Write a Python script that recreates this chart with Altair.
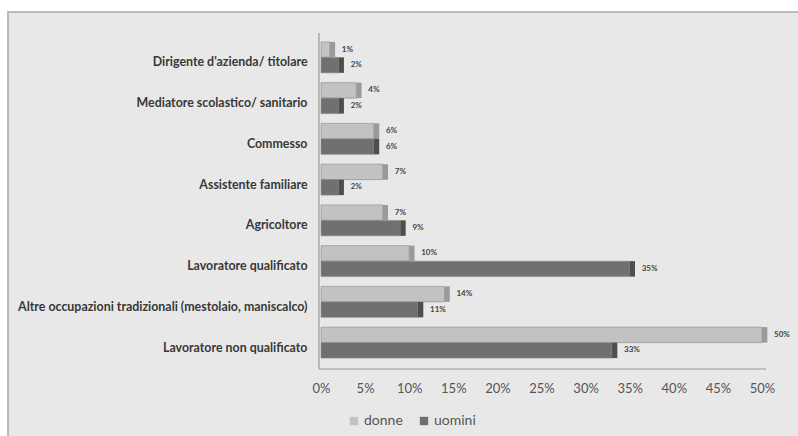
import altair as alt
import pandas as pd

categories = [
    "Dirigente d'azienda/ titolare",
    "Mediatore scolastico/ sanitario",
    "Commesso",
    "Assistente familiare",
    "Agricoltore",
    "Lavoratore qualificato",
    "Altre occupazioni tradizionali (mestolaio, maniscalco)",
    "Lavoratore non qualificato",
]
donne = [0.01, 0.04, 0.06, 0.07, 0.07, 0.10, 0.14, 0.50]
uomini = [0.02, 0.02, 0.06, 0.02, 0.09, 0.35, 0.11, 0.33]
series = ["donne", "uomini"]
x_ticks = [0, 0.05, 0.10, 0.15, 0.20, 0.25, 0.30, 0.35, 0.40, 0.45, 0.50]

rows = []
for c, d, u in zip(categories, donne, uomini):
    rows.append({"cat": c, "serie": "donne", "val": d})
    rows.append({"cat": c, "serie": "uomini", "val": u})
df = pd.DataFrame(rows)

W, H = 441, 326
FONT = "Lato"

y_enc = alt.Y("cat:N", sort=categories, title=None,
              scale=alt.Scale(paddingInner=0.24, paddingOuter=0.12),
              axis=alt.Axis(labelFont=FONT, labelFontWeight="bold", labelFontSize=12.4,
                            labelColor="#383838", labelPadding=14, labelOffset=5,
                            ticks=False, domain=False, labelLimit=400, zindex=2))
x_enc = alt.X("val:Q", title=None,
              scale=alt.Scale(domain=[0, 0.5], nice=False),
              axis=alt.Axis(format=".0%", values=x_ticks, labelFont=FONT, labelFontSize=13,
                            labelColor="#555555", labelPadding=19, ticks=False, labelFlush=False,
                            domain=False, grid=False, zindex=2))
color_enc = alt.Color("serie:N", scale=alt.Scale(domain=series, range=["#c2c2c2", "#707070"]),
                      legend=alt.Legend(title=None, orient="none", direction="horizontal",
                                        legendX=26, legendY=377, labelFont=FONT,
                                        labelFontSize=14, labelColor="#555555", labelOffset=3,
                                        symbolType="square", symbolSize=70,
                                        symbolStrokeWidth=0, columnPadding=14, zindex=2))
side_enc = alt.Color("serie:N", scale=alt.Scale(domain=series, range=["#9a9a9a", "#4e4e4e"]),
                     legend=None)

frame = alt.Chart(pd.DataFrame({"a": [0]})).mark_rect(
    fill="#e8e8e8", stroke="#a8a8a8", strokeWidth=1.5
).encode(x=alt.value(-313), x2=alt.value(478), y=alt.value(-25), y2=alt.value(400))

wall = alt.Chart(pd.DataFrame({"a": [0]})).mark_rule(color="#9a9a9a", strokeWidth=1.2).encode(
    x=alt.value(-2), y=alt.value(-4), y2=alt.value(H + 6))
floor = alt.Chart(pd.DataFrame({"a": [0]})).mark_rule(color="#9a9a9a", strokeWidth=1.2).encode(
    x=alt.value(-2), x2=alt.value(W + 4), y=alt.value(H + 6))

base = alt.Chart(df)
bars = base.mark_bar(stroke="#8a8a8a", strokeWidth=0.6).encode(
    y=y_enc, x=x_enc, yOffset=alt.YOffset("serie:N", sort=series), color=color_enc)
sides = base.transform_calculate(side="datum.val + 0.006").mark_bar(strokeWidth=0).encode(
    y=alt.Y("cat:N", sort=categories), x="val:Q", x2="side:Q",
    yOffset=alt.YOffset("serie:N", sort=series), color=side_enc)
labels = base.mark_text(align="left", baseline="middle", dx=12, fontSize=8,
                        fontWeight="bold", font=FONT, color="#444444").encode(
    y=alt.Y("cat:N", sort=categories), x="val:Q",
    yOffset=alt.YOffset("serie:N", sort=series), text=alt.Text("val:Q", format=".0%"))

chart = alt.layer(frame, wall, floor, bars, sides, labels).resolve_scale(color="independent").properties(
    width=W, height=H,
    autosize=alt.AutoSizeParams(type="none"),
    padding={"left": 321, "top": 37, "right": 36, "bottom": 73},
).configure(background="white").configure_view(stroke=None)

chart.save("out.html", embed_options={"renderer": "svg", "actions": False})
